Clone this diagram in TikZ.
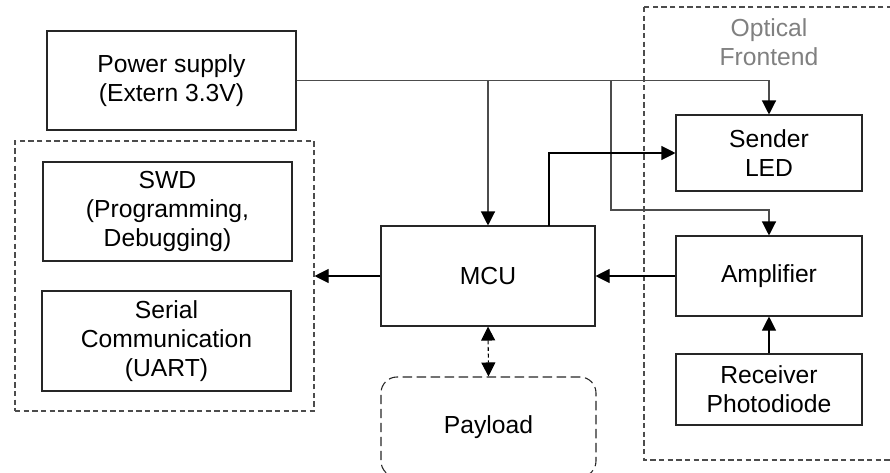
\documentclass[tikz,border=0pt]{standalone}
\usepackage{fontspec}
\setmainfont{Liberation Sans}
\usetikzlibrary{arrows.meta}
\begin{document}
\begin{tikzpicture}[x=0.75pt,y=-0.75pt,
  every node/.style={font=\fontsize{18.5}{21.5}\selectfont, align=center, text=black},
  blk/.style={draw=black!85, line width=0.8pt, inner sep=0pt},
  frame/.style={draw=black!70, line width=0.8pt, dash pattern=on 4pt off 2.5pt},
  pline/.style={draw=black!70, line width=0.9pt},
  sline/.style={draw=black, line width=0.8pt},
  tip/.style={Triangle[length=10.5pt,width=10.5pt,color=black,fill=black]},
  arr/.style={-{Triangle[length=10.5pt,width=10.5pt,color=black,fill=black]}},
  darr/.style={{Triangle[length=10.5pt,width=10.5pt,color=black,fill=black]}-{Triangle[length=10.5pt,width=10.5pt,color=black,fill=black]}}
]
\useasboundingbox (0,0) rectangle (890,472);
% frames
\node[frame, minimum width=299*0.75pt, minimum height=270*0.75pt] (left) at (164.5,276) {};
\draw[frame] (644,7) rectangle (900,460);
\node[text=black!50] (opt) at (769,42) {Optical\\Frontend};
% blocks
\node[blk, minimum width=249*0.75pt, minimum height=99*0.75pt] (ps) at (171.5,80.5) {Power supply\\(Extern 3.3V)};
\node[blk, minimum width=249*0.75pt, minimum height=99*0.75pt] (swd) at (167.5,211.5) {SWD\\(Programming,\\Debugging)};
\node[blk, minimum width=249*0.75pt, minimum height=100*0.75pt] (uart) at (166.5,341) {Serial\\Communication\\(UART)};
\node[blk, minimum width=214*0.75pt, minimum height=100*0.75pt] (mcu) at (488,276) {MCU};
\node[blk, minimum width=186*0.75pt, minimum height=76*0.75pt] (led) at (769,153) {Sender\\LED};
\node[blk, minimum width=186*0.75pt, minimum height=80*0.75pt] (amp) at (769,276) {Amplifier};
\node[blk, minimum width=186*0.75pt, minimum height=71*0.75pt] (rec) at (769,389.5) {Receiver\\Photodiode};
\node[draw=black!85, line width=0.8pt, dash pattern=on 7pt off 3.5pt, rounded corners=12pt, minimum width=215*0.75pt, minimum height=100*0.75pt, inner sep=0pt] (pay) at (488.5,427) {Payload};
% power lines
\coordinate (j1) at (611,80.5);
\coordinate (j2) at (611,210);
\draw[pline, arr] (ps.east) -| (led.north);
\draw[pline, arr] (mcu.north |- ps.east) -- (mcu.north);
\draw[pline, arr] (j1) -- (j2) -| (amp.north);
% signal lines
\coordinate (m1) at (549,226);
\draw[sline, arr] (m1) |- (led.west);
\draw[sline, arr] (mcu.west) -- (left.east);
\draw[sline, arr] (amp.west) -- (mcu.east);
\draw[sline, arr] (rec.north) -- (amp.south);
\draw[sline, darr, dash pattern=on 3pt off 2pt] (mcu.south) -- (pay.north);
\end{tikzpicture}
\end{document}
